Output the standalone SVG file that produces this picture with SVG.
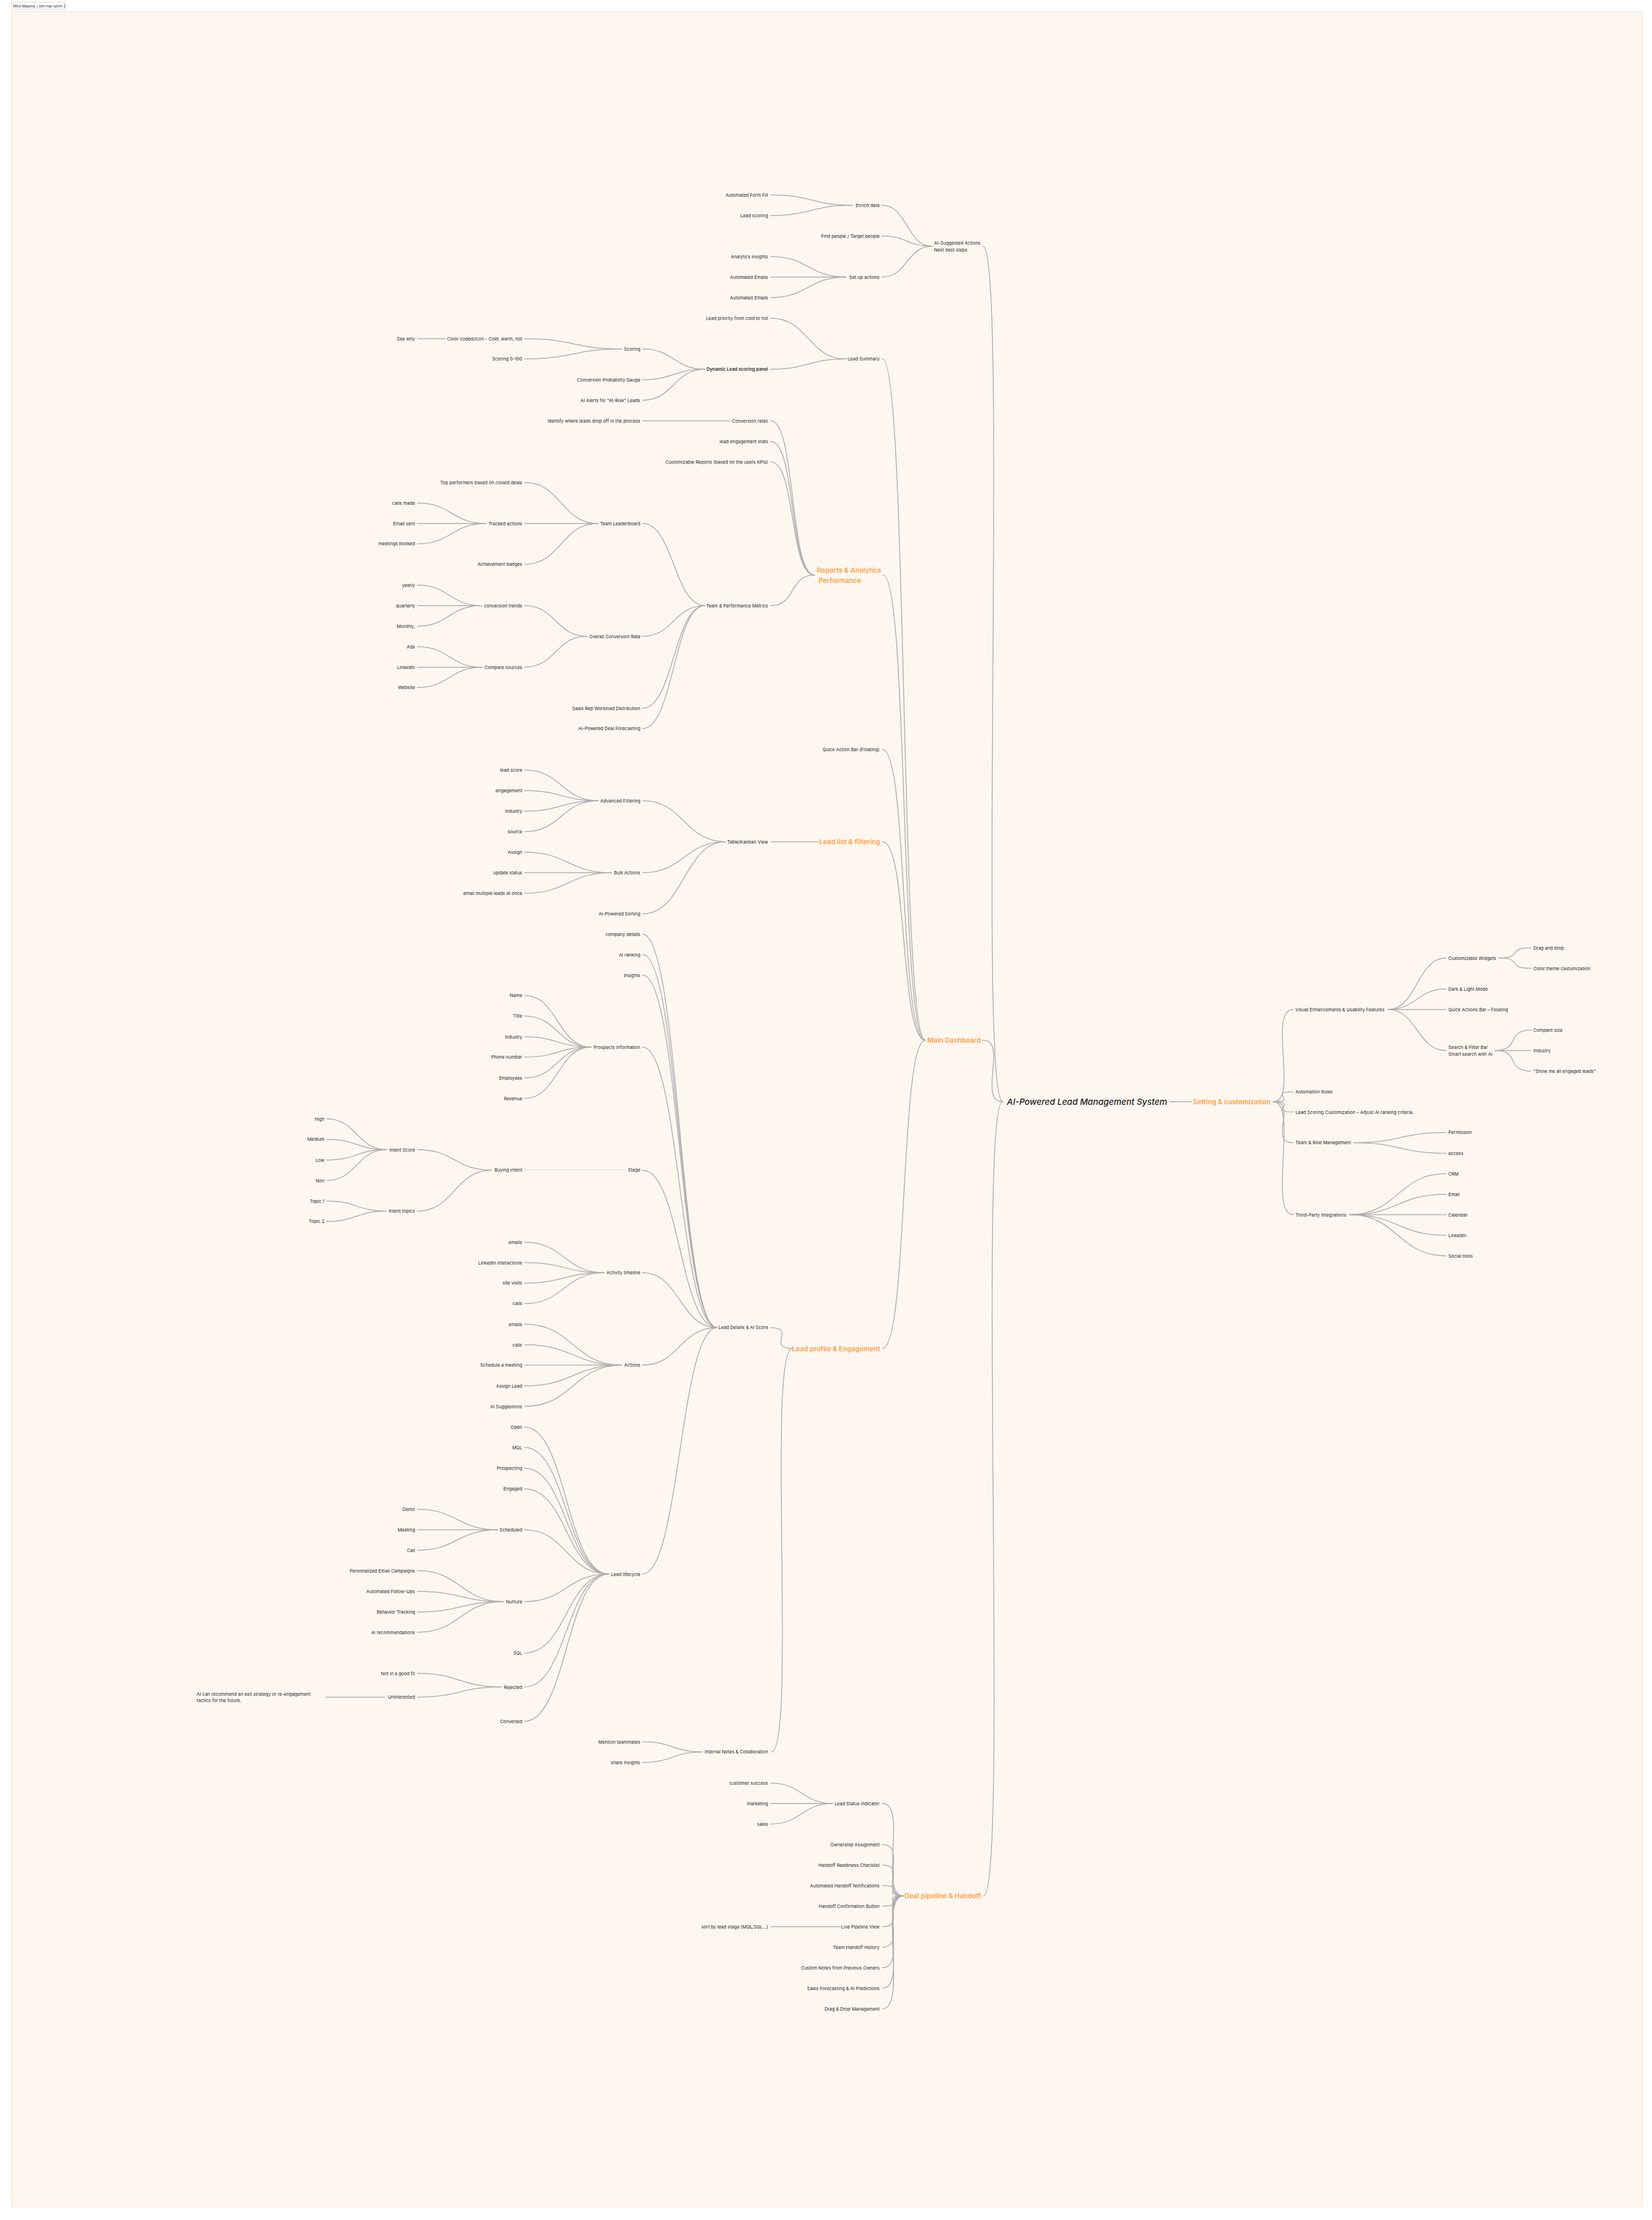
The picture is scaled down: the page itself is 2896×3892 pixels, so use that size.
<svg xmlns="http://www.w3.org/2000/svg" width="2896" height="3892" viewBox="0 0 2896 3892">
<style>
.t{font-family:Inter,"Liberation Sans",sans-serif;font-size:7.9px;fill:#2a2a2a;dominant-baseline:central}
.e{text-anchor:end}
.b{font-weight:600}
.h{font-family:Inter,"Liberation Sans",sans-serif;font-size:11.9px;font-weight:600;fill:#FF9F45;dominant-baseline:central}
.root{font-family:Inter,"Liberation Sans",sans-serif;font-size:15px;font-weight:500;font-style:italic;fill:#1f1f1f;dominant-baseline:central}
.c path{fill:none;stroke:#adadad;stroke-width:1.5;stroke-linecap:round}
.c path.f{stroke:#d9d4ce;stroke-width:1}
</style>
<rect x="0" y="0" width="2896" height="3892" fill="#ffffff"/>
<rect x="20.5" y="20.5" width="2858.5" height="3848.5" fill="#FEF7F0" stroke="#FFDCB8" stroke-width="1"/>
<g id="frame-label"><rect x="20" y="4" width="94" height="12" fill="#ffffff" stroke="#c8c8c8" stroke-width="0.8"/><text x="23" y="10.2" style="font-family:Inter,'Liberation Sans',sans-serif;font-size:5.7px;fill:#333;dominant-baseline:central">Mind Mapping + site map option 2</text></g>

<g id="connectors" class="c">
<path d="M1351 341.7C1423 341.7 1423 359.7 1495 359.7"/>
<path d="M1351 377.7C1423 377.7 1423 359.7 1495 359.7"/>
<path d="M1351 449.7C1417 449.7 1417 485.7 1483 485.7"/>
<path d="M1351 485.7H1483"/>
<path d="M1351 521.7C1417 521.7 1417 485.7 1483 485.7"/>
<path d="M1546 359.7C1591 359.7 1589 431.7 1634 431.7"/>
<path d="M1546 413.7C1591 413.7 1589 431.7 1634 431.7"/>
<path d="M1546 485.7C1591 485.7 1589 431.7 1634 431.7"/>
<path d="M1351 557.7C1417 557.7 1417 629.3 1483 629.3"/>
<path d="M1351 647.3C1417 647.3 1417 629.3 1483 629.3"/>
<path d="M1126.5 611.7C1181 611.7 1181 647.3 1236 647.3"/>
<path d="M1126.5 665.7C1181 665.7 1181 647.3 1236 647.3"/>
<path d="M1126.5 701.7C1181 701.7 1181 647.3 1236 647.3"/>
<path d="M919.5 593.7C1004.5 593.7 1005 611.7 1090 611.7"/>
<path d="M919.5 629.3C1004.5 629.3 1005 611.7 1090 611.7"/>
<path d="M731.5 593.7H781"/>
<path d="M1547 629.3C1592 629.3 1577 1823.5 1622 1823.5"/>
<path d="M1548 1008C1593 1008 1577 1823.5 1622 1823.5"/>
<path d="M1547 1314C1592 1314 1577 1823.5 1622 1823.5"/>
<path d="M1547 1475.7C1592 1475.7 1577 1823.5 1622 1823.5"/>
<path d="M1547 2364C1592 2364 1577 1823.5 1622 1823.5"/>
<path d="M1351 737.8C1396 737.8 1383 1008 1428 1008"/>
<path d="M1351 773.8C1396 773.8 1383 1008 1428 1008"/>
<path d="M1351 809.8C1396 809.8 1383 1008 1428 1008"/>
<path d="M1351 1061.7C1396 1061.7 1383 1008 1428 1008"/>
<path d="M1126.5 737.8H1280"/>
<path d="M1126.5 917.7C1181 917.7 1181 1061.7 1236 1061.7"/>
<path d="M1126.5 1115.5C1181 1115.5 1181 1061.7 1236 1061.7"/>
<path d="M1126.5 1241.6C1181 1241.6 1181 1061.7 1236 1061.7"/>
<path d="M1126.5 1277.3C1181 1277.3 1181 1061.7 1236 1061.7"/>
<path d="M919.5 845.8C983.8 845.8 983.8 917.7 1048 917.7"/>
<path d="M919.5 917.7H1048"/>
<path d="M919.5 989.4C983.8 989.4 983.8 917.7 1048 917.7"/>
<path d="M731.5 881.8C791.8 881.8 791.8 917.7 852 917.7"/>
<path d="M731.5 917.7H852"/>
<path d="M731.5 953.4C791.8 953.4 791.8 917.7 852 917.7"/>
<path d="M919.5 1061.7C974.3 1061.7 974.3 1115.5 1029 1115.5"/>
<path d="M919.5 1169.7C974.3 1169.7 974.3 1115.5 1029 1115.5"/>
<path d="M731.5 1025.7C787.8 1025.7 787.8 1061.7 844 1061.7"/>
<path d="M731.5 1061.7H844"/>
<path d="M731.5 1097.7C787.8 1097.7 787.8 1061.7 844 1061.7"/>
<path d="M731.5 1133.7C788.3 1133.7 788.3 1169.7 845 1169.7"/>
<path d="M731.5 1169.7H845"/>
<path d="M731.5 1205.3C788.3 1205.3 788.3 1169.7 845 1169.7"/>
<path d="M1351 1475.7H1435"/>
<path d="M1126.5 1403.7C1199.3 1403.7 1199.3 1475.7 1272 1475.7"/>
<path d="M1126.5 1530C1199.3 1530 1199.3 1475.7 1272 1475.7"/>
<path d="M1126.5 1602C1199.3 1602 1199.3 1475.7 1272 1475.7"/>
<path d="M919.5 1350C984.3 1350 984.3 1403.7 1049 1403.7"/>
<path d="M919.5 1386C984.3 1386 984.3 1403.7 1049 1403.7"/>
<path d="M919.5 1422C984.3 1422 984.3 1403.7 1049 1403.7"/>
<path d="M919.5 1458C984.3 1458 984.3 1403.7 1049 1403.7"/>
<path d="M919.5 1494C995.8 1494 995.8 1530 1072 1530"/>
<path d="M919.5 1530H1072"/>
<path d="M919.5 1566C995.8 1566 995.8 1530 1072 1530"/>
<path d="M1351 2327.4C1396 2327.4 1344 2364 1389 2364"/>
<path d="M1352 3071.4C1397 3071.4 1344 2364 1389 2364"/>
<path d="M1126.5 1637.7C1191.8 1637.7 1191.8 2327.4 1257 2327.4"/>
<path d="M1126.5 1673.6C1191.8 1673.6 1191.8 2327.4 1257 2327.4"/>
<path d="M1126.5 1709.5C1191.8 1709.5 1191.8 2327.4 1257 2327.4"/>
<path d="M1126.5 1835.7C1191.8 1835.7 1191.8 2327.4 1257 2327.4"/>
<path d="M1126.5 2051.4C1191.8 2051.4 1191.8 2327.4 1257 2327.4"/>
<path d="M1126.5 2231.2C1191.8 2231.2 1191.8 2327.4 1257 2327.4"/>
<path d="M1126.5 2393.3C1191.8 2393.3 1191.8 2327.4 1257 2327.4"/>
<path d="M1126.5 2759.5C1191.8 2759.5 1191.8 2327.4 1257 2327.4"/>
<path d="M919.5 1745.3C977.8 1745.3 977.8 1835.7 1036 1835.7"/>
<path d="M919.5 1781.2C977.8 1781.2 977.8 1835.7 1036 1835.7"/>
<path d="M919.5 1817.6C977.8 1817.6 977.8 1835.7 1036 1835.7"/>
<path d="M919.5 1853.4C977.8 1853.4 977.8 1835.7 1036 1835.7"/>
<path d="M919.5 1889.8C977.8 1889.8 977.8 1835.7 1036 1835.7"/>
<path d="M919.5 1925.6C977.8 1925.6 977.8 1835.7 1036 1835.7"/>
<path class="f" d="M919.5 2051.4H1096"/>
<path d="M731.5 2015.5C796.8 2015.5 796.8 2051.4 862 2051.4"/>
<path d="M731.5 2123.2C796.8 2123.2 796.8 2051.4 862 2051.4"/>
<path d="M572.8 1961.5C625.4 1961.5 625.4 2015.5 678 2015.5"/>
<path d="M572.8 1997.4C625.4 1997.4 625.4 2015.5 678 2015.5"/>
<path d="M572.8 2033.7C625.4 2033.7 625.4 2015.5 678 2015.5"/>
<path d="M572.8 2069.6C625.4 2069.6 625.4 2015.5 678 2015.5"/>
<path d="M572.8 2105.5C624.9 2105.5 624.9 2123.2 677 2123.2"/>
<path d="M572.8 2141.3C624.9 2141.3 624.9 2123.2 677 2123.2"/>
<path d="M919.5 2177.7C989.3 2177.7 989.3 2231.2 1059 2231.2"/>
<path d="M919.5 2213.5C989.3 2213.5 989.3 2231.2 1059 2231.2"/>
<path d="M919.5 2249.4C989.3 2249.4 989.3 2231.2 1059 2231.2"/>
<path d="M919.5 2285.3C989.3 2285.3 989.3 2231.2 1059 2231.2"/>
<path d="M919.5 2321.6C1004.8 2321.6 1004.8 2393.3 1090 2393.3"/>
<path d="M919.5 2357.5C1004.8 2357.5 1004.8 2393.3 1090 2393.3"/>
<path d="M919.5 2393.3H1090"/>
<path d="M919.5 2429.7C1004.8 2429.7 1004.8 2393.3 1090 2393.3"/>
<path d="M919.5 2465.5C1004.8 2465.5 1004.8 2393.3 1090 2393.3"/>
<path d="M919.5 2501.8C993.3 2501.8 993.3 2759.5 1067 2759.5"/>
<path d="M919.5 2537.6C993.3 2537.6 993.3 2759.5 1067 2759.5"/>
<path d="M919.5 2573.9C993.3 2573.9 993.3 2759.5 1067 2759.5"/>
<path d="M919.5 2610.2C993.3 2610.2 993.3 2759.5 1067 2759.5"/>
<path d="M919.5 2681.9C993.3 2681.9 993.3 2759.5 1067 2759.5"/>
<path d="M919.5 2807.8C993.3 2807.8 993.3 2759.5 1067 2759.5"/>
<path d="M919.5 2897.8C993.3 2897.8 993.3 2759.5 1067 2759.5"/>
<path d="M919.5 2957.5C993.3 2957.5 993.3 2759.5 1067 2759.5"/>
<path d="M919.5 3017.7C993.3 3017.7 993.3 2759.5 1067 2759.5"/>
<path d="M731.5 2646C801.8 2646 801.8 2681.9 872 2681.9"/>
<path d="M731.5 2681.9H872"/>
<path d="M731.5 2717.7C801.8 2717.7 801.8 2681.9 872 2681.9"/>
<path d="M731.5 2753.5C807.3 2753.5 807.3 2807.8 883 2807.8"/>
<path d="M731.5 2789.9C807.3 2789.9 807.3 2807.8 883 2807.8"/>
<path d="M731.5 2826.2C807.3 2826.2 807.3 2807.8 883 2807.8"/>
<path d="M731.5 2861.5C807.3 2861.5 807.3 2807.8 883 2807.8"/>
<path d="M731.5 2933.6C805.3 2933.6 805.3 2957.5 879 2957.5"/>
<path d="M731.5 2975.4C805.3 2975.4 805.3 2957.5 879 2957.5"/>
<path d="M571.4 2975.4H674"/>
<path d="M1126.5 3053.5C1178.8 3053.5 1178.8 3071.4 1231 3071.4"/>
<path d="M1126.5 3089.9C1178.8 3089.9 1178.8 3071.4 1231 3071.4"/>
<path d="M1547 3161.7C1592 3161.7 1539 3323.7 1584 3323.7"/>
<path d="M1547 3233.7C1592 3233.7 1539 3323.7 1584 3323.7"/>
<path d="M1547 3269.7C1592 3269.7 1539 3323.7 1584 3323.7"/>
<path d="M1547 3305.7C1592 3305.7 1539 3323.7 1584 3323.7"/>
<path d="M1547 3341.7C1592 3341.7 1539 3323.7 1584 3323.7"/>
<path d="M1547 3377.7C1592 3377.7 1539 3323.7 1584 3323.7"/>
<path d="M1547 3413.7C1592 3413.7 1539 3323.7 1584 3323.7"/>
<path d="M1547 3449.7C1592 3449.7 1539 3323.7 1584 3323.7"/>
<path d="M1547 3485.7C1592 3485.7 1539 3323.7 1584 3323.7"/>
<path d="M1547 3521.7C1592 3521.7 1539 3323.7 1584 3323.7"/>
<path d="M1351 3126C1405.5 3126 1405.5 3161.7 1460 3161.7"/>
<path d="M1351 3161.7H1460"/>
<path d="M1351 3197.7C1405.5 3197.7 1405.5 3161.7 1460 3161.7"/>
<path d="M1351 3377.7H1473"/>
<path d="M1723 431.7C1768 431.7 1713 1931.6 1758 1931.6"/>
<path d="M1723 1823.5C1768 1823.5 1713 1931.6 1758 1931.6"/>
<path d="M1724 3323.7C1769 3323.7 1713 1931.6 1758 1931.6"/>
<path d="M2050 1931.6H2088"/>
<path d="M2232 1931.6C2277 1931.6 2222 1769.8 2267 1769.8"/>
<path d="M2232 1931.6C2277 1931.6 2222 1913.9 2267 1913.9"/>
<path d="M2232 1931.6C2277 1931.6 2222 1949.6 2267 1949.6"/>
<path d="M2232 1931.6C2277 1931.6 2222 2003.4 2267 2003.4"/>
<path d="M2232 1931.6C2277 1931.6 2222 2129.5 2267 2129.5"/>
<path d="M2433 1769.8C2484 1769.8 2484 1679.5 2535 1679.5"/>
<path d="M2433 1769.8C2484 1769.8 2484 1733.7 2535 1733.7"/>
<path d="M2433 1769.8H2535"/>
<path d="M2433 1769.8C2484 1769.8 2484 1841.7 2535 1841.7"/>
<path d="M2627 1679.5C2672 1679.5 2639 1661.8 2684 1661.8"/>
<path d="M2627 1679.5C2672 1679.5 2639 1697.6 2684 1697.6"/>
<path d="M2621 1841.7C2666 1841.7 2639 1805.9 2684 1805.9"/>
<path d="M2621 1841.7H2684"/>
<path d="M2621 1841.7C2666 1841.7 2639 1877.8 2684 1877.8"/>
<path d="M2374 2003.4C2454.5 2003.4 2454.5 1985.4 2535 1985.4"/>
<path d="M2374 2003.4C2454.5 2003.4 2454.5 2021.9 2535 2021.9"/>
<path d="M2366 2129.5C2450.5 2129.5 2450.5 2057.6 2535 2057.6"/>
<path d="M2366 2129.5C2450.5 2129.5 2450.5 2093.7 2535 2093.7"/>
<path d="M2366 2129.5H2535"/>
<path d="M2366 2129.5C2450.5 2129.5 2450.5 2165.6 2535 2165.6"/>
<path d="M2366 2129.5C2450.5 2129.5 2450.5 2201.7 2535 2201.7"/>
</g>

<g id="n-root"><text class="root" x="1765" y="1931.6" textLength="281" lengthAdjust="spacingAndGlyphs">AI-Powered Lead Management System</text></g>
<g id="n-main-dashboard"><text class="h e" x="1719.5" y="1823.5">Main Dashboard</text></g>
<g id="n-setting"><text class="h" x="2091.5" y="1931.6">Setting &amp; customization</text></g>
<g id="n-deal-pipeline"><text class="h e" x="1720" y="3323.7">Deal pipeline &amp; Handoff</text></g>
<g id="n-ai-suggested"><text class="t" x="1637.5" y="425.7">AI-Suggested Actions</text><text class="t" x="1637.5" y="437.7">Next best steps</text></g>
<g id="n-enrich"><text class="t e" x="1542" y="359.7">Enrich data</text></g>
<g id="n-find-people"><text class="t e" x="1542" y="413.7">Find people / Target people</text></g>
<g id="n-setup-actions"><text class="t e" x="1542" y="485.7">Set up actions</text></g>
<g id="n-auto-form"><text class="t e" x="1346.5" y="341.7">Automated Form Fill</text></g>
<g id="n-lead-scoring"><text class="t e" x="1346.5" y="377.7">Lead scoring</text></g>
<g id="n-analytics-insights"><text class="t e" x="1346.5" y="449.7">Analytics insights</text></g>
<g id="n-auto-emails-1"><text class="t e" x="1346.5" y="485.7">Automated Emails</text></g>
<g id="n-auto-emails-2"><text class="t e" x="1346.5" y="521.7">Automated Emails</text></g>
<g id="n-lead-summary"><text class="t e" x="1542" y="629.3">Lead Summary</text></g>
<g id="n-lead-priority"><text class="t e" x="1346.5" y="557.7">Lead priority from cold to hot</text></g>
<g id="n-dynamic"><text class="t e b" x="1346.5" y="647.3">Dynamic Lead scoring panel</text></g>
<g id="n-scoring"><text class="t e" x="1122.5" y="611.7">Scoring</text></g>
<g id="n-gauge"><text class="t e" x="1122.5" y="665.7">Conversion Probability Gauge</text></g>
<g id="n-alerts"><text class="t e" x="1122.5" y="701.7">AI Alerts for "At-Risk" Leads</text></g>
<g id="n-color-coded"><text class="t e" x="915.5" y="593.7">Color coded/icon - Cold, warm, hot</text></g>
<g id="n-scoring-100"><text class="t e" x="915.5" y="629.3">Scoring 0-100</text></g>
<g id="n-see-why"><text class="t e" x="727.5" y="593.7">See why</text></g>

<g id="n-reports"><text class="h" x="1432" y="999">Reports &amp; Analytics</text><text class="h" x="1435" y="1017">Performance</text></g>
<g id="n-conv-rates"><text class="t e" x="1346.5" y="737.8">Conversion rates</text></g>
<g id="n-identify"><text class="t e" x="1122.5" y="737.8">Identify where leads drop off in the process</text></g>
<g id="n-engagement-stats"><text class="t e" x="1346.5" y="773.8">lead engagement stats</text></g>
<g id="n-custom-reports"><text class="t e" x="1346.5" y="809.8">Customizable Reports (based on the users KPIs)</text></g>
<g id="n-team-perf"><text class="t e" x="1346.5" y="1061.7">Team &amp; Performance Metrics</text></g>
<g id="n-team-leaderboard"><text class="t e" x="1122.5" y="917.7">Team Leaderboard</text></g>
<g id="n-top-performers"><text class="t e" x="915.5" y="845.8">Top performers based on closed deals</text></g>
<g id="n-tracked"><text class="t e" x="915.5" y="917.7">Tracked actions</text></g>
<g id="n-badges"><text class="t e" x="915.5" y="989.4">Achievement badges</text></g>
<g id="n-calls-made"><text class="t e" x="727.5" y="881.8">calls made</text></g>
<g id="n-email-sent"><text class="t e" x="727.5" y="917.7">Email sent</text></g>
<g id="n-meetings"><text class="t e" x="727.5" y="953.4">meetings booked</text></g>
<g id="n-overall"><text class="t e" x="1122.5" y="1115.5">Overall Conversion Rate</text></g>
<g id="n-conv-trends"><text class="t e" x="915.5" y="1061.7">conversion trends</text></g>
<g id="n-compare"><text class="t e" x="915.5" y="1169.7">Compare sources</text></g>
<g id="n-yearly"><text class="t e" x="727.5" y="1025.7">yearly</text></g>
<g id="n-quarterly"><text class="t e" x="727.5" y="1061.7">quarterly</text></g>
<g id="n-monthly"><text class="t e" x="727.5" y="1097.7">Monthly,</text></g>
<g id="n-ads"><text class="t e" x="727.5" y="1133.7">Ads</text></g>
<g id="n-linkedin-src"><text class="t e" x="727.5" y="1169.7">LinkedIn</text></g>
<g id="n-website"><text class="t e" x="727.5" y="1205.3">Website</text></g>
<g id="n-workload"><text class="t e" x="1122.5" y="1241.6">Sales Rep Workload Distribution</text></g>
<g id="n-forecasting"><text class="t e" x="1122.5" y="1277.3">AI-Powered Deal Forecasting</text></g>

<g id="n-quick-action"><text class="t e" x="1542" y="1314">Quick Action Bar (Floating)</text></g>
<g id="n-lead-list"><text class="h e" x="1543" y="1475.7">Lead list &amp; filtering</text></g>
<g id="n-table-kanban"><text class="t e" x="1346.5" y="1475.7">Table/Kanban View</text></g>
<g id="n-adv-filter"><text class="t e" x="1122.5" y="1403.7">Advanced Filtering</text></g>
<g id="n-bulk"><text class="t e" x="1122.5" y="1530">Bulk Actions</text></g>
<g id="n-ai-sorting"><text class="t e" x="1122.5" y="1602">AI-Powered Sorting</text></g>
<g id="n-f-lead-score"><text class="t e" x="915.5" y="1350">lead score</text></g>
<g id="n-f-engagement"><text class="t e" x="915.5" y="1386">engagement</text></g>
<g id="n-f-industry"><text class="t e" x="915.5" y="1422">industry</text></g>
<g id="n-f-source"><text class="t e" x="915.5" y="1458">source</text></g>
<g id="n-b-assign"><text class="t e" x="915.5" y="1494">Assign</text></g>
<g id="n-b-update"><text class="t e" x="915.5" y="1530">update status</text></g>
<g id="n-b-email"><text class="t e" x="915.5" y="1566">email multiple leads at once</text></g>

<g id="n-lead-profile"><text class="h e" x="1543" y="2364">Lead profile &amp; Engagement</text></g>
<g id="n-lead-details"><text class="t e" x="1346.5" y="2327.4">Lead Details &amp; AI Score</text></g>
<g id="n-company"><text class="t e" x="1122.5" y="1637.7">company details</text></g>
<g id="n-ai-ranking"><text class="t e" x="1122.5" y="1673.6">AI ranking</text></g>
<g id="n-insights"><text class="t e" x="1122.5" y="1709.5">Insights</text></g>
<g id="n-prospects"><text class="t e" x="1122.5" y="1835.7">Prospects information</text></g>
<g id="n-p-name"><text class="t e" x="915.5" y="1745.3">Name</text></g>
<g id="n-p-title"><text class="t e" x="915.5" y="1781.2">Title</text></g>
<g id="n-p-industry"><text class="t e" x="915.5" y="1817.6">Industry</text></g>
<g id="n-p-phone"><text class="t e" x="915.5" y="1853.4">Phone number</text></g>
<g id="n-p-employees"><text class="t e" x="915.5" y="1889.8">Employees</text></g>
<g id="n-p-revenue"><text class="t e" x="915.5" y="1925.6">Revenue</text></g>
<g id="n-stage"><text class="t e" x="1122.5" y="2051.4">Stage</text></g>
<g id="n-buying"><text class="t e" x="915.5" y="2051.4">Buying intent</text></g>
<g id="n-intent-score"><text class="t e" x="727.5" y="2015.5">Intent Score</text></g>
<g id="n-intent-topics"><text class="t e" x="727.5" y="2123.2">Intent topics</text></g>
<g id="n-high"><text class="t e" x="568.8" y="1961.5">High</text></g>
<g id="n-medium"><text class="t e" x="568.8" y="1997.4">Medium</text></g>
<g id="n-low"><text class="t e" x="568.8" y="2033.7">Low</text></g>
<g id="n-non"><text class="t e" x="568.8" y="2069.6">Non</text></g>
<g id="n-topic1"><text class="t e" x="568.8" y="2105.5">Topic 1</text></g>
<g id="n-topic2"><text class="t e" x="568.8" y="2141.3">Topic 2</text></g>
<g id="n-activity"><text class="t e" x="1122.5" y="2231.2">Activity timeline</text></g>
<g id="n-a-emails"><text class="t e" x="915.5" y="2177.7">emails</text></g>
<g id="n-a-linkedin"><text class="t e" x="915.5" y="2213.5">LinkedIn interactions</text></g>
<g id="n-a-site"><text class="t e" x="915.5" y="2249.4">site visits</text></g>
<g id="n-a-calls"><text class="t e" x="915.5" y="2285.3">calls</text></g>
<g id="n-actions"><text class="t e" x="1122.5" y="2393.3">Actions</text></g>
<g id="n-x-emails"><text class="t e" x="915.5" y="2321.6">emails</text></g>
<g id="n-x-calls"><text class="t e" x="915.5" y="2357.5">calls</text></g>
<g id="n-x-schedule"><text class="t e" x="915.5" y="2393.3">Schedule a meeting</text></g>
<g id="n-x-assign"><text class="t e" x="915.5" y="2429.7">Assign Lead</text></g>
<g id="n-x-ai"><text class="t e" x="915.5" y="2465.5">AI Suggestions</text></g>
<g id="n-lifecycle"><text class="t e" x="1122.5" y="2759.5">Lead lifecycle</text></g>
<g id="n-l-open"><text class="t e" x="915.5" y="2501.8">Open</text></g>
<g id="n-l-mql"><text class="t e" x="915.5" y="2537.6">MQL</text></g>
<g id="n-l-prospecting"><text class="t e" x="915.5" y="2573.9">Prospecting</text></g>
<g id="n-l-engaged"><text class="t e" x="915.5" y="2610.2">Engaged</text></g>
<g id="n-l-scheduled"><text class="t e" x="915.5" y="2681.9">Scheduled</text></g>
<g id="n-l-nurture"><text class="t e" x="915.5" y="2807.8">Nurture</text></g>
<g id="n-l-sql"><text class="t e" x="915.5" y="2897.8">SQL</text></g>
<g id="n-l-rejected"><text class="t e" x="915.5" y="2957.5">Rejected</text></g>
<g id="n-l-converted"><text class="t e" x="915.5" y="3017.7">Converted</text></g>
<g id="n-demo"><text class="t e" x="727.5" y="2646">Demo</text></g>
<g id="n-meeting"><text class="t e" x="727.5" y="2681.9">Meeting</text></g>
<g id="n-call"><text class="t e" x="727.5" y="2717.7">Call</text></g>
<g id="n-personalized"><text class="t e" x="727.5" y="2753.5">Personalized Email Campaigns</text></g>
<g id="n-followups"><text class="t e" x="727.5" y="2789.9">Automated Follow-Ups</text></g>
<g id="n-behavior"><text class="t e" x="727.5" y="2826.2">Behavior Tracking</text></g>
<g id="n-ai-recs"><text class="t e" x="727.5" y="2861.5">AI recommendations</text></g>
<g id="n-not-fit"><text class="t e" x="727.5" y="2933.6">Not in a good fit</text></g>
<g id="n-uninterested"><text class="t e" x="727.5" y="2975.4">Uninterested</text></g>
<g id="n-exit-note"><text class="t" x="344.8" y="2969.5">AI can recommend an exit strategy or re-engagement</text><text class="t" x="344.8" y="2981.4">tactics for the future.</text></g>
<g id="n-internal-notes"><text class="t e" x="1346.5" y="3071.4">Internal Notes &amp; Collaboration</text></g>
<g id="n-mention"><text class="t e" x="1122.5" y="3053.5">Mention teammates</text></g>
<g id="n-share"><text class="t e" x="1122.5" y="3089.9">share insights</text></g>

<g id="n-status-indicator"><text class="t e" x="1542" y="3161.7">Lead Status Indicator</text></g>
<g id="n-cs"><text class="t e" x="1346.5" y="3126">customer success</text></g>
<g id="n-marketing"><text class="t e" x="1346.5" y="3161.7">marketing</text></g>
<g id="n-sales"><text class="t e" x="1346.5" y="3197.7">sales</text></g>
<g id="n-ownership"><text class="t e" x="1542" y="3233.7">Ownership Assignment</text></g>
<g id="n-readiness"><text class="t e" x="1542" y="3269.7">Handoff Readiness Checklist</text></g>
<g id="n-notifications"><text class="t e" x="1542" y="3305.7">Automated Handoff Notifications</text></g>
<g id="n-confirmation"><text class="t e" x="1542" y="3341.7">Handoff Confirmation Button</text></g>
<g id="n-live-pipeline"><text class="t e" x="1542" y="3377.7">Live Pipeline View</text></g>
<g id="n-sort-stage"><text class="t e" x="1346.5" y="3377.7">sort by lead stage (MQL,SQL...)</text></g>
<g id="n-handoff-history"><text class="t e" x="1542" y="3413.7">Team Handoff History</text></g>
<g id="n-custom-notes"><text class="t e" x="1542" y="3449.7">Custom Notes from Previous Owners</text></g>
<g id="n-sales-forecast"><text class="t e" x="1542" y="3485.7">Sales Forecasting &amp; AI Predictions</text></g>
<g id="n-drag-drop-mgmt"><text class="t e" x="1542" y="3521.7">Drag &amp; Drop Management</text></g>

<g id="n-visual"><text class="t" x="2271" y="1769.8">Visual Enhancements &amp; Usability Features</text></g>
<g id="n-widgets"><text class="t" x="2539" y="1679.5">Customizable Widgets</text></g>
<g id="n-drag"><text class="t" x="2688" y="1661.8">Drag and drop</text></g>
<g id="n-color-theme"><text class="t" x="2688" y="1697.6">Color theme castumization</text></g>
<g id="n-dark-light"><text class="t" x="2539" y="1733.7">Dark &amp; Light Mode</text></g>
<g id="n-quick-actions-bar"><text class="t" x="2539" y="1769.8">Quick Actions Bar – Floating</text></g>
<g id="n-search-filter"><text class="t" x="2539" y="1835.6">Search &amp; Filter Bar</text><text class="t" x="2539" y="1847.7">Smart search with AI</text></g>
<g id="n-company-size"><text class="t" x="2688" y="1805.9">Compant size</text></g>
<g id="n-s-industry"><text class="t" x="2688" y="1841.7">Industry</text></g>
<g id="n-show-me"><text class="t" x="2688" y="1877.8">"Show me all engaged leads"</text></g>
<g id="n-automation"><text class="t" x="2271" y="1913.9">Automation Rules</text></g>
<g id="n-scoring-custom"><text class="t" x="2271" y="1949.6">Lead Scoring Customization – Adjust AI ranking criteria.</text></g>
<g id="n-team-role"><text class="t" x="2271" y="2003.4">Team &amp; Role Management</text></g>
<g id="n-permission"><text class="t" x="2539" y="1985.4">Permission</text></g>
<g id="n-access"><text class="t" x="2539" y="2021.9">access</text></g>
<g id="n-third-party"><text class="t" x="2271" y="2129.5">Third-Party Integrations</text></g>
<g id="n-crm"><text class="t" x="2539" y="2057.6">CRM</text></g>
<g id="n-email-int"><text class="t" x="2539" y="2093.7">Email</text></g>
<g id="n-calendar"><text class="t" x="2539" y="2129.5">Calendar</text></g>
<g id="n-linkedin-int"><text class="t" x="2539" y="2165.6">LinkedIn</text></g>
<g id="n-social"><text class="t" x="2539" y="2201.7">Social tools</text></g>
</svg>
